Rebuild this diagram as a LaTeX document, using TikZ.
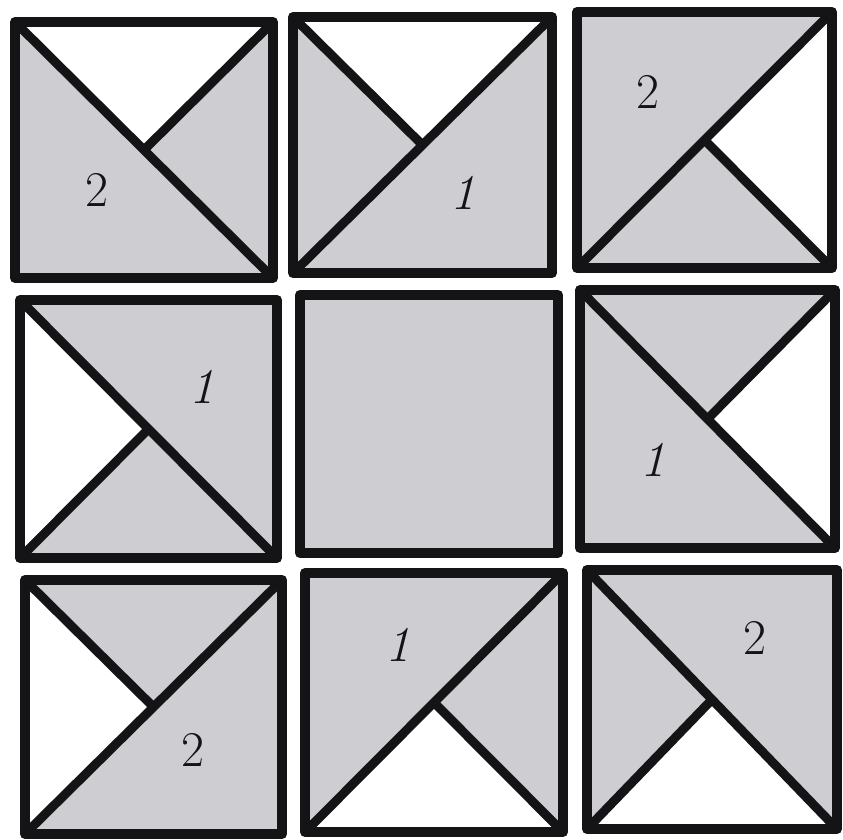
\documentclass[tikz,border=0pt]{standalone}
\definecolor{tilegray}{RGB}{206,206,210}
\definecolor{inkblack}{RGB}{20,20,22}
\newcommand{\mktile}[5]{%
  \coordinate (#1-tl) at (#2,#3);
  \coordinate (#1-tr) at (#4,#3);
  \coordinate (#1-bl) at (#2,#5);
  \coordinate (#1-br) at (#4,#5);
  \coordinate (#1-c) at ($(#1-tl)!0.5!(#1-br)$);
  \fill[tilegray] (#1-tl) rectangle (#1-br);
}
\usetikzlibrary{calc}
\begin{document}
\begin{tikzpicture}[x=1pt,y=-1pt,
  border/.style={draw=inkblack,line width=10pt,line join=round},
  cut/.style={draw=inkblack,line width=9pt,line cap=butt},
  blank/.style={fill=white},
  num/.style={inner sep=0pt,font=\fontsize{50}{50}\selectfont,text=inkblack},
  numone/.style={num,font=\fontsize{50}{50}\selectfont\itshape}]
\useasboundingbox (0,0) rectangle (843,839);
\fill[white] (0,0) rectangle (843,839);
% tiles
\mktile{a}{15}{22}{273}{278}
\mktile{b}{293}{17}{552}{273}
\mktile{c}{577}{12}{832}{268}
\mktile{d}{20}{300}{277}{558}
\mktile{e}{300}{295}{558}{553}
\mktile{f}{580}{290}{835}{548}
\mktile{g}{25}{580}{282}{834}
\mktile{h}{305}{573}{563}{832}
\mktile{i}{587}{570}{837}{829}
% white triangles
\path[blank] (a-tl) -- (a-tr) -- (a-c) -- cycle;
\path[blank] (b-tl) -- (b-tr) -- (b-c) -- cycle;
\path[blank] (c-tr) -- (c-br) -- (c-c) -- cycle;
\path[blank] (d-tl) -- (d-bl) -- (d-c) -- cycle;
\path[blank] (f-tr) -- (f-br) -- (f-c) -- cycle;
\path[blank] (g-tl) -- (g-bl) -- (g-c) -- cycle;
\path[blank] (h-bl) -- (h-br) -- (h-c) -- cycle;
\path[blank] (i-bl) -- (i-br) -- (i-c) -- cycle;
% cut lines
\draw[cut] (a-tl) -- (a-br); \draw[cut] (a-tr) -- (a-c);
\draw[cut] (b-bl) -- (b-tr); \draw[cut] (b-tl) -- (b-c);
\draw[cut] (c-bl) -- (c-tr); \draw[cut] (c-br) -- (c-c);
\draw[cut] (d-tl) -- (d-br); \draw[cut] (d-bl) -- (d-c);
\draw[cut] (f-tl) -- (f-br); \draw[cut] (f-tr) -- (f-c);
\draw[cut] (g-bl) -- (g-tr); \draw[cut] (g-tl) -- (g-c);
\draw[cut] (h-bl) -- (h-tr); \draw[cut] (h-br) -- (h-c);
\draw[cut] (i-tl) -- (i-br); \draw[cut] (i-bl) -- (i-c);
% borders
\foreach \t in {a,b,c,d,e,f,g,h,i} {\draw[border] (\t-tl) rectangle (\t-br);}
% numbers
\node[num] (na) at (97,190) {2};
\node[numone] (nb) at (463,193) {1};
\node[num] (nc) at (648,92) {2};
\node[numone] (nd) at (202,387) {1};
\node[numone] (nf) at (653,460) {1};
\node[num] (ng) at (193,750) {2};
\node[numone] (nh) at (398,645) {1};
\node[num] (ni) at (755,638) {2};
\end{tikzpicture}
\end{document}
